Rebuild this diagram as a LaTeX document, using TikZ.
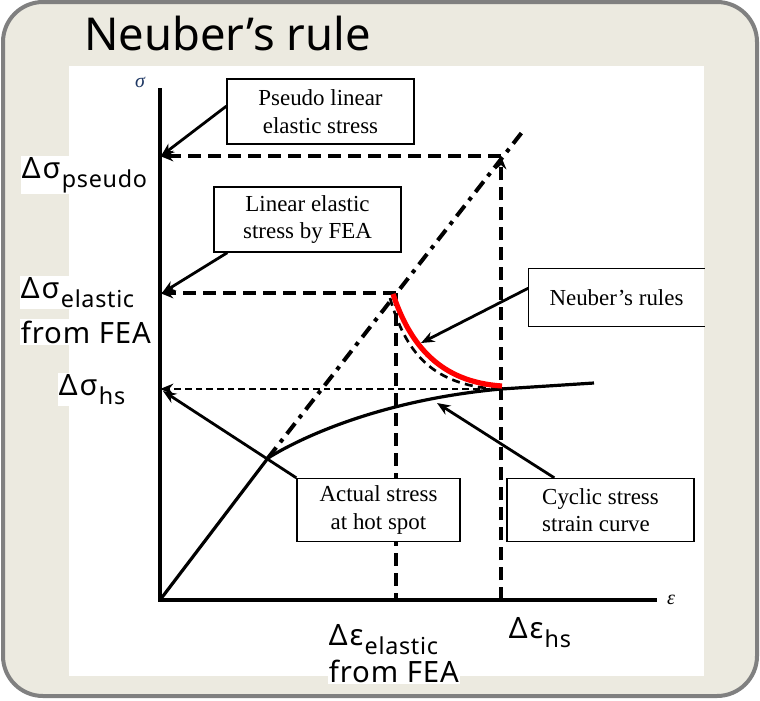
\documentclass[tikz,border=0pt]{standalone}
\usepackage{fontspec}
\setmainfont{Liberation Serif}
\newfontfamily\slidefont{Noto Sans}
\newfontfamily\lblfont[LetterSpace=3]{Noto Sans}
\usetikzlibrary{arrows.meta}
\newcommand{\lowsub}[1]{\raisebox{-6.75pt}{\fontsize{17.5}{17.5}\selectfont #1}}
\newcommand{\dlt}[1]{Δ\kern1.5pt#1\kern1pt}

\tikzset{every picture/.style={line width=0.75pt}}
\tikzset{
  notebox/.style={draw, line width=1pt, fill=white, align=center, inner sep=0pt, font=\fontsize{17.2}{20.5}\selectfont},
  biglbl/.style={anchor=base west, inner sep=1pt, fill=white, font=\lblfont\fontsize{22}{24}\selectfont},
  callout/.style={line width=2.1pt, -{Stealth[length=10pt,width=8pt]}},
  guide/.style={line width=2.4pt, dash pattern=on 9.75pt off 5.25pt},
  fineguide/.style={line width=2.2pt, dash pattern=on 5pt off 3pt},
}

\begin{document}
\begin{tikzpicture}[x=0.75pt,y=0.75pt,yscale=-1,xscale=1]
\useasboundingbox (0,0) rectangle (760,700);
%Rounded Rect
\draw [color={rgb, 255:red, 128; green, 128; blue, 128 }, fill={rgb, 255:red, 236; green, 234; blue, 224 }, line width=3pt, rounded corners=30pt] (3,2) rectangle (757,696);
%Shape: Rectangle
\fill [white] (69,66) rectangle (704,676);

% Text Node
\draw (83,50) node [anchor=base west][inner sep=0.75pt] [font=\slidefont\fontsize{34}{40}\selectfont] (title) {Neuber’s rule};

%points of the chart
\coordinate (O) at (160,600);
\coordinate (ytop) at (160,88);
\coordinate (xend) at (657,600);
\coordinate (pk) at (501,156);
\coordinate (el) at (396,293);
\coordinate (hs) at (501,389);
\coordinate (knee) at (268,458);
\coordinate (dtop) at (523,131);
\coordinate (cend) at (594,383);

%Straight Lines (axes)
\draw [line width=2.4pt] (ytop) -- (O) -- (xend);
% Text Node
\draw (140,82) node [inner sep=0.75pt] [font=\itshape\fontsize{15}{15}\selectfont, color={rgb, 255:red, 31; green, 56; blue, 100 }] (sig) {σ};
% Text Node
\draw (671,600) node [inner sep=0.75pt] [font=\itshape\fontsize{15}{15}\selectfont] (eps) {ε};

%Straight Lines (dashed guides)
\draw [guide, -{Stealth[length=10pt,width=8pt]}] (pk) -- (pk -| O);
\draw [guide, -{Stealth[length=10pt,width=8pt]}] (pk |- O) -- (pk);
\draw [guide, -{Stealth[length=10pt,width=8pt]}] (el) -- (el -| O);
\draw [guide] (el) -- (el |- O);
\draw [fineguide, -{Stealth[length=10pt,width=8pt]}] (hs) -- (hs -| O);

%Straight Lines (linear elastic)
\draw [line width=3pt, dash pattern=on 10pt off 5pt on 3pt off 5pt] (knee) -- (dtop);
%Curve Lines (cyclic stress strain)
\draw [line width=2.4pt] (O) -- (knee) .. controls (300,438) and (380,400) .. (hs) -- (cend);
%Curve Lines (Neuber)
\draw [line width=2pt, dash pattern=on 6pt off 4pt] (390,298) .. controls (405,350) and (430,385) .. (497,389);
\draw [color={rgb, 255:red, 255; green, 0; blue, 0 }, line width=3.9pt] (393,294) .. controls (410,345) and (440,382) .. (502,386);

% Text Node
\draw (320.5,111.5) node [notebox, minimum width=140.25pt, minimum height=48.75pt] (pseudo) {Pseudo linear\\elastic stress};
% Text Node
\draw (307.5,219.5) node [notebox, minimum width=140.25pt, minimum height=48.75pt] (fea) {Linear elastic\\stress by FEA};
% Text Node
\draw (616.5,297.5) node [notebox, draw=none, minimum width=131.25pt, minimum height=42.75pt] (neuber) {Neuber’s rules};
\draw [line width=1pt] (neuber.south east) -- (neuber.south west) -- (neuber.north west) -- (neuber.north east);
% Text Node
\draw (378.5,510) node [notebox, minimum width=122.25pt, minimum height=47.25pt] (actual) {Actual stress\\at hot spot};
% Text Node
\draw (600.5,510) node [notebox, align=left, minimum width=140.25pt, minimum height=47.25pt] (cyclic) {Cyclic stress\\strain curve};

%Straight Lines (callouts)
\coordinate (pstip) at (161,156);
\coordinate (featip) at (162,293);
\coordinate (hstip) at (163,391);
\coordinate (neubertip) at (421,343);
\coordinate (cyctip) at (437,403);
\draw [callout] ([yshift=-4pt]pseudo.west) -- (pstip);
\draw [callout] ([xshift=10.5pt]fea.south west) -- (featip);
\draw [callout] ([yshift=-7pt]neuber.west) -- (neubertip);
\draw [callout] (actual.north west) -- (hstip);
\draw [callout] ([xshift=36pt]cyclic.north west) -- (cyctip);

% Text Node
\draw (20,178) node [biglbl] (dspseudo) {\dlt{σ}\lowsub{pseudo}};
% Text Node
\draw (19,298) node [biglbl] (dselastic) {\dlt{σ}\lowsub{elastic}};
\draw (19,343) node [biglbl] (dsfea) {from FEA};
% Text Node
\draw (57,395) node [biglbl] (dshs) {\dlt{σ}\lowsub{hs}};
% Text Node
\draw (327,645) node [biglbl] (deelastic) {\dlt{ε}\lowsub{elastic}};
\draw (327,682) node [biglbl] (defea) {from FEA};
% Text Node
\draw (507,638) node [biglbl] (dehs) {\dlt{ε}\lowsub{hs}};
\end{tikzpicture}
\end{document}
